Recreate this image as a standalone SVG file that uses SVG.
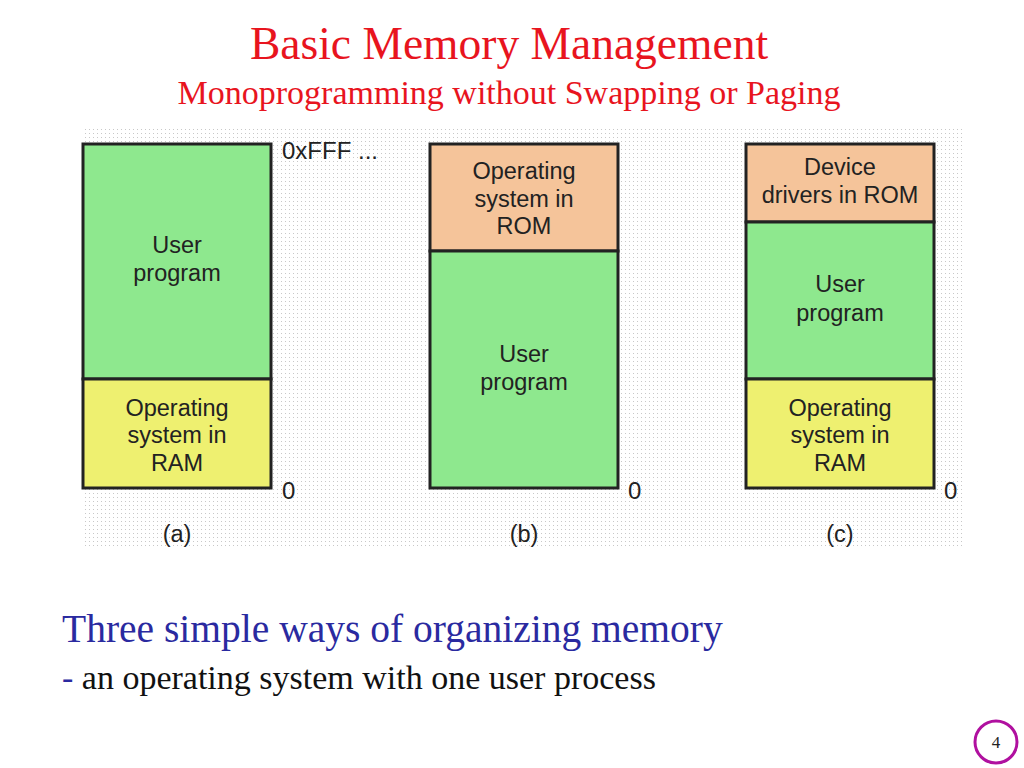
<svg xmlns="http://www.w3.org/2000/svg" width="1024" height="768" viewBox="0 0 1024 768">
<style>
.t{font-family:"Liberation Serif",serif}
.l{font-family:"Liberation Sans",sans-serif;font-size:23.5px;fill:#222;text-anchor:middle}
.a{font-family:"Liberation Sans",sans-serif;font-size:24px;fill:#222}
.b{stroke:#222;stroke-width:3}
</style>
<defs>
<pattern id="dots" width="4" height="4" patternUnits="userSpaceOnUse">
<rect x="1" y="1" width="1" height="1" fill="#c8c8c8"/>
</pattern>
</defs>
<rect width="1024" height="768" fill="#fff"/>
<text class="t" x="509" y="59" font-size="45.5" fill="#e8141e" text-anchor="middle">Basic Memory Management</text>
<text class="t" x="509" y="104" font-size="34" fill="#e8141e" text-anchor="middle">Monoprogramming without Swapping or Paging</text>
<rect x="82" y="128" width="883" height="420" fill="url(#dots)"/>
<g id="a">
<rect x="83" y="144" width="188" height="235" fill="#8ee88e" class="b"/>
<rect x="83" y="379" width="188" height="109" fill="#eef070" class="b"/>
<text class="l" x="177" y="253">User</text><text class="l" x="177" y="281">program</text>
<text class="l" x="177" y="416">Operating</text><text class="l" x="177" y="443">system in</text><text class="l" x="177" y="471">RAM</text>
<text class="a" x="282" y="159">0xFFF ...</text>
<text class="a" x="282" y="499">0</text>
<text class="l" x="177" y="542">(a)</text>
</g>
<g id="b">
<rect x="430" y="144" width="188" height="107" fill="#f5c49a" class="b"/>
<rect x="430" y="251" width="188" height="237" fill="#8ee88e" class="b"/>
<text class="l" x="524" y="179">Operating</text><text class="l" x="524" y="207">system in</text><text class="l" x="524" y="234">ROM</text>
<text class="l" x="524" y="362">User</text><text class="l" x="524" y="390">program</text>
<text class="a" x="628" y="499">0</text>
<text class="l" x="524" y="542">(b)</text>
</g>
<g id="c">
<rect x="746" y="144" width="188" height="78" fill="#f5c49a" class="b"/>
<rect x="746" y="222" width="188" height="157" fill="#8ee88e" class="b"/>
<rect x="746" y="379" width="188" height="109" fill="#eef070" class="b"/>
<text class="l" x="840" y="175">Device</text><text class="l" x="840" y="203">drivers in ROM</text>
<text class="l" x="840" y="292">User</text><text class="l" x="840" y="321">program</text>
<text class="l" x="840" y="416">Operating</text><text class="l" x="840" y="443">system in</text><text class="l" x="840" y="471">RAM</text>
<text class="a" x="944" y="499">0</text>
<text class="l" x="840" y="542">(c)</text>
</g>
<text class="t" x="62" y="642" font-size="39.5" fill="#2a2aa0">Three simple ways of organizing memory</text>
<text class="t" x="62" y="689" font-size="34"><tspan fill="#2a2aa0">-</tspan><tspan fill="#111"> an operating system with one user process</tspan></text>
<circle cx="996" cy="742" r="21" fill="#fff" stroke="#b0109f" stroke-width="3"/>
<text class="t" x="996" y="748" font-size="17" text-anchor="middle" fill="#222">4</text>
</svg>
